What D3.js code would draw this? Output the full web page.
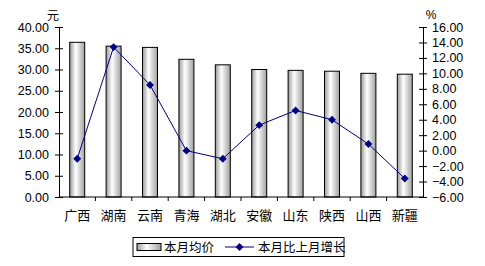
<!DOCTYPE html>
<html>
<head>
<meta charset="utf-8">
<script src="https://cdn.jsdelivr.net/npm/d3@7"></script>
<style>
  body { margin: 0; background: #fff; }
  text { font-family: Arial, "Liberation Sans", sans-serif; }
</style>
</head>
<body>
<div id="chart"></div>
<script>
// data
const provinces = ["广西", "湖南", "云南", "青海", "湖北", "安徽", "山东", "陕西", "山西", "新疆"]
const avgPrice = [36.4, 35.5, 35.2, 32.4, 31.1, 30.0, 29.8, 29.6, 29.1, 28.9]
const monthGrowth = [-1.05, 13.4, 8.5, 0.0, -1.05, 3.3, 5.2, 4.0, 0.85, -3.6]
const leftTicks = [0, 5, 10, 15, 20, 25, 30, 35, 40]
const rightTicks = [-6, -4, -2, 0, 2, 4, 6, 8, 10, 12, 14, 16]

const width = 485, height = 266
const plot = { left: 59, right: 423, top: 27, bottom: 197 }

const svg = d3.select("#chart")
  .append("svg")
    .attr("width", width)
    .attr("height", height)

// bar gradient, excel cylinder look
const grad = svg.append("defs").append("linearGradient")
    .attr("id", "barGrad")
    .attr("x1", "0%").attr("x2", "100%")
grad.append("stop").attr("offset", "0%").attr("stop-color", "#9a9a9a")
grad.append("stop").attr("offset", "40%").attr("stop-color", "#ffffff")
grad.append("stop").attr("offset", "100%").attr("stop-color", "#a0a0a0")

const xCat = d3.scaleBand()
  .domain(provinces)
  .range([plot.left, plot.right])

const yL = d3.scaleLinear().domain([0, 40]).range([plot.bottom, plot.top])
const yR = d3.scaleLinear().domain([-6, 16]).range([plot.bottom, plot.top])

// bars
svg.append("g")
  .selectAll("rect")
  .data(avgPrice)
  .join("rect")
    .attr("x", (d, i) => xCat(provinces[i]) + xCat.bandwidth() / 2 - 7.5)
    .attr("width", 15)
    .attr("y", d => yL(d))
    .attr("height", d => yL(0) - yL(d))
    .style("fill", "url(#barGrad)")
    .style("stroke", "#000")
    .style("stroke-width", 1)

// left axis
const axL = svg.append("g")
    .attr("transform", `translate(${plot.left},0)`)
    .call(d3.axisLeft(yL).tickValues(leftTicks).tickFormat(d3.format(".2f")).tickSizeInner(4).tickSizeOuter(0))
axL.selectAll(".tick line").attr("x2", 4).attr("x1", -4)
axL.selectAll("text").attr("x", -10).style("font-size", "12.5px").style("fill", "#000")

// right axis
const axR = svg.append("g")
    .attr("transform", `translate(${plot.right},0)`)
    .call(d3.axisRight(yR).tickValues(rightTicks).tickFormat(d3.format(".2f")).tickSizeInner(4).tickSizeOuter(0))
axR.selectAll(".tick line").attr("x1", -4).attr("x2", 4)
axR.selectAll("text").attr("x", 9).style("font-size", "12.5px").style("fill", "#000")

// bottom axis
const axB = svg.append("g")
    .attr("transform", `translate(0,${plot.bottom})`)
axB.append("line")
    .attr("x1", plot.left).attr("x2", plot.right)
    .style("stroke", "#000")
axB.selectAll("line.tk")
  .data(provinces.slice(1))
  .join("line")
    .attr("class", "tk")
    .attr("x1", d => xCat(d)).attr("x2", d => xCat(d))
    .attr("y1", 0).attr("y2", 4)
    .style("stroke", "#000")
axB.selectAll("text")
  .data(provinces)
  .join("text")
    .attr("x", d => xCat(d) + xCat.bandwidth() / 2)
    .attr("y", 23)
    .attr("text-anchor", "middle")
    .style("font-family", "'Noto Sans CJK SC', sans-serif")
    .style("font-size", "13px")
    .text(d => d)

svg.selectAll(".domain").style("stroke", "#000")
svg.selectAll(".tick line").style("stroke", "#000")

// unit labels
svg.append("text").attr("x", 53).attr("y", 20).attr("text-anchor", "middle")
  .style("font-family", "'Noto Sans CJK SC', sans-serif").style("font-size", "12px").text("元")
svg.append("text").attr("x", 431).attr("y", 19).attr("text-anchor", "middle")
  .style("font-size", "12px").text("%")

// line series
const cx = (d, i) => xCat(provinces[i]) + xCat.bandwidth() / 2
svg.append("path")
  .datum(monthGrowth)
  .attr("d", d3.line().x(cx).y(d => yR(d)))
  .style("fill", "none")
  .style("stroke", "#000080")
  .style("stroke-width", 1)

svg.append("g")
  .selectAll("path")
  .data(monthGrowth)
  .join("path")
    .attr("transform", (d, i) => `translate(${cx(d, i)},${yR(d)})`)
    .attr("d", d3.symbol().type(d3.symbolDiamond2).size(40))
    .style("fill", "#000080")

// legend
const lg = svg.append("g")
lg.append("rect")
    .attr("x", 133).attr("y", 237.5).attr("width", 211).attr("height", 19)
    .style("fill", "#fff").style("stroke", "#000")
lg.append("rect")
    .attr("x", 137).attr("y", 243.5).attr("width", 24).attr("height", 7)
    .style("fill", "url(#barGrad)").style("stroke", "#000")
lg.append("text").attr("x", 164).attr("y", 251.5)
  .style("font-family", "'Noto Sans CJK SC', sans-serif").style("font-size", "12.5px").text("本月均价")
lg.append("line")
    .attr("x1", 225).attr("x2", 254).attr("y1", 247).attr("y2", 247)
    .style("stroke", "#000080")
lg.append("path")
    .attr("transform", "translate(239.5,247)")
    .attr("d", d3.symbol().type(d3.symbolDiamond2).size(40))
    .style("fill", "#000080")
lg.append("text").attr("x", 258).attr("y", 251.5)
  .style("font-family", "'Noto Sans CJK SC', sans-serif").style("font-size", "12.5px").text("本月比上月增长")
</script>
</body>
</html>
